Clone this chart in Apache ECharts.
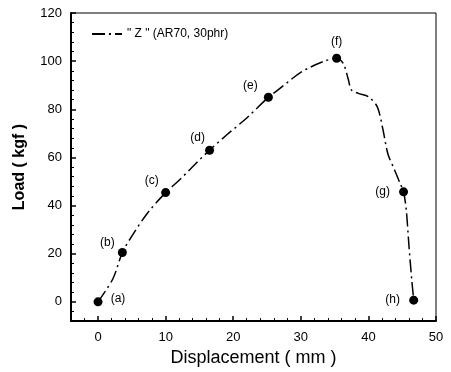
<!DOCTYPE html>
<html>
<head>
<meta charset="utf-8">
<script src="https://cdn.jsdelivr.net/npm/echarts@6/dist/echarts.min.js"></script>
<style>
  html, body { margin: 0; padding: 0; background: #fff; }
  #chart { width: 451px; height: 372px; }
</style>
</head>
<body>
<div id="chart"></div>
<script>
// load-displacement curve
const curveX = [0, 2.2, 3.6, 5.0, 7.3, 10.0, 12.0, 14.4, 16.5, 19.1, 22.0, 25.2, 26.3, 30.1, 33.3, 35.3,
  36.3, 37.0, 37.5, 38.5, 40.0, 41.3, 42.1, 42.9, 43.9, 44.7, 45.2, 45.6, 46.0, 46.4, 46.7]
const curveY = [0, 9.6, 20.5, 27.3, 36.8, 45.4, 50.5, 57.3, 63.0, 69.5, 76.4, 85.0, 87.3, 95.5, 99.8, 101.2,
  98.9, 92.7, 88.0, 86.6, 85.2, 81.1, 72.3, 61.3, 54.6, 49.1, 45.7, 38.2, 23.2, 9.6, 0.7]

// marked stages (a)-(h)
const pointX = [0, 3.6, 10.0, 16.5, 25.2, 35.3, 45.2, 46.7]
const pointY = [0, 20.5, 45.4, 63.0, 85.0, 101.2, 45.7, 0.7]
const pointNames = ['(a)', '(b)', '(c)', '(d)', '(e)', '(f)', '(g)', '(h)']

const seriesName = '" Z " (AR70, 30phr)'

// where each stage label sits relative to its dot
const labelOffsets = [[20, -3], [-15, -10], [-14, -12], [-12, -13], [-18, -12], [0, -17], [-21, 0], [-21, 0]]

const font = 'Liberation Sans, Arial, sans-serif'

const curveData = curveX.map((x, i) => [x, curveY[i]])
const pointData = pointX.map((x, i) => ({
  value: [x, pointY[i]],
  label: { offset: labelOffsets[i] }
}))

const option = {
  animation: false,
  backgroundColor: '#fff',
  textStyle: { fontFamily: font, color: '#000' },
  grid: {
    left: 71, right: 15, top: 13, bottom: 47,
    show: true, borderColor: '#000', borderWidth: 1
  },
  legend: {
    left: 86,
    top: 23,
    itemWidth: 30,
    itemHeight: 12,
    itemGap: 4,
    data: [seriesName],
    itemStyle: { opacity: 0 },
    textStyle: { fontFamily: font, fontSize: 12, color: '#000' }
  },
  xAxis: {
    type: 'value',
    min: -4,
    max: 50,
    splitNumber: 5,
    name: 'Displacement ( mm )',
    nameLocation: 'middle',
    nameGap: 25,
    nameTextStyle: { fontFamily: font, fontSize: 18, color: '#000' },
    axisLine: { onZero: false, lineStyle: { color: '#000', width: 2 } },
    axisTick: { inside: true, length: 5, lineStyle: { color: '#000', width: 1.5 } },
    minorTick: { show: true, splitNumber: 5, length: 3, lineStyle: { color: '#000' } },
    axisLabel: { showMinLabel: false, fontSize: 13, color: '#000', margin: 10, fontFamily: font },
    splitLine: { show: false }
  },
  yAxis: {
    type: 'value',
    min: -8,
    max: 120,
    splitNumber: 6,
    name: 'Load ( kgf )',
    nameLocation: 'middle',
    nameGap: 43,
    nameTextStyle: { fontFamily: font, fontSize: 16, fontWeight: 'bold', color: '#000' },
    axisLine: { onZero: false, lineStyle: { color: '#000', width: 2 } },
    axisTick: { inside: true, length: 5, lineStyle: { color: '#000', width: 1.5 } },
    minorTick: { show: true, splitNumber: 5, length: 3, lineStyle: { color: '#000' } },
    axisLabel: { showMinLabel: false, fontSize: 13, color: '#000', margin: 9, fontFamily: font },
    splitLine: { show: false }
  },
  series: [
    {
      name: seriesName,
      type: 'line',
      smooth: 0.3,
      symbol: 'none',
      lineStyle: { color: '#000', width: 1.5, type: [13, 4, 2, 4] },
      itemStyle: { color: '#000' },
      data: curveData
    },
    {
      name: 'stages',
      type: 'scatter',
      symbol: 'circle',
      symbolSize: 9,
      itemStyle: { color: '#000', opacity: 1 },
      label: {
        show: true,
        position: 'inside',
        fontSize: 12,
        color: '#000',
        fontFamily: font,
        formatter: p => pointNames[p.dataIndex]
      },
      data: pointData,
      z: 3
    }
  ]
}

const myChart = echarts.init(document.getElementById('chart'))
myChart.setOption(option)
</script>
</body>
</html>
